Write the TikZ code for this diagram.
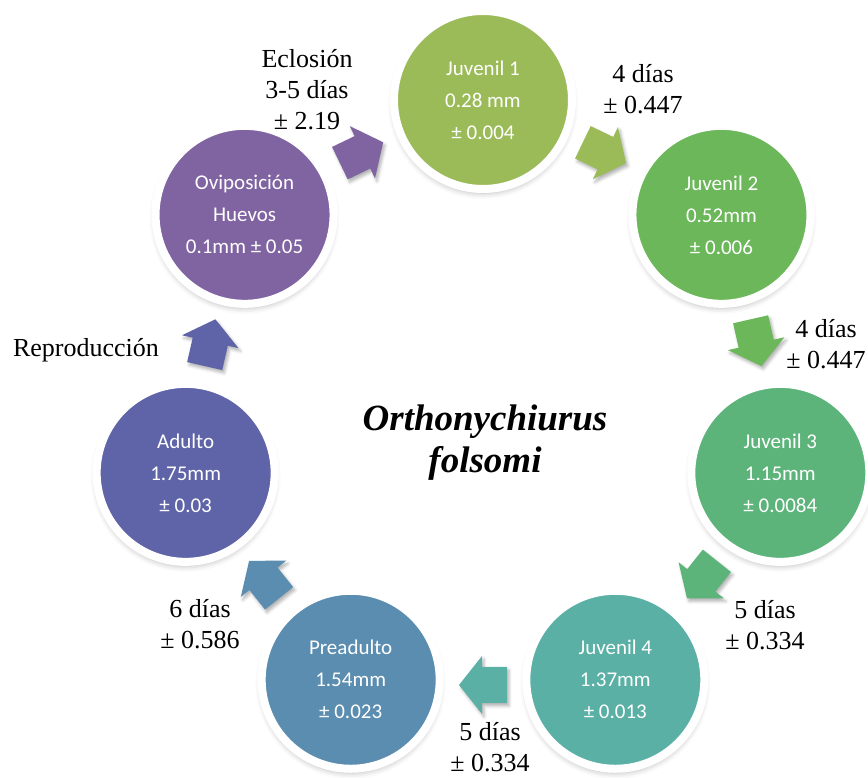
\documentclass[tikz,border=0pt]{standalone}
\usepackage{fontspec}
\setmainfont{Liberation Serif}
\newfontfamily\calib{Carlito}
\usetikzlibrary{calc,shadows.blur}
\definecolor{cA}{HTML}{9BBB59}
\definecolor{cB}{HTML}{6BB75A}
\definecolor{cC}{HTML}{5DB47B}
\definecolor{cD}{HTML}{5BB0A5}
\definecolor{cE}{HTML}{5B8DB0}
\definecolor{cF}{HTML}{5F64A8}
\definecolor{cG}{HTML}{8064A2}
\tikzset{
  stage/.style={circle, fill=#1, draw=white, line width=8pt, minimum size=178pt,
    inner sep=0pt, text=white, align=center,
    font=\calib\fontsize{21}{32}\selectfont,
    blur shadow={shadow xshift=0pt, shadow yshift=-4pt, shadow blur radius=6pt, shadow opacity=30}},
  flowarrow/.pic={
    \path[fill=#1, blur shadow={shadow xshift=2pt, shadow yshift=-3pt, shadow blur radius=3pt, shadow opacity=30}]
      (-24,-18) -- (1,-18) -- (1,-29) -- (24,0) -- (1,29) -- (1,18) -- (-24,18) -- cycle;
  },
  lbl/.style={align=center, font=\fontsize{26}{31}\selectfont, inner sep=0pt}
}
\begin{document}
\begin{tikzpicture}[x=1pt,y=1pt]
\useasboundingbox (0,0) rectangle (868,778);
\coordinate (C) at (483,373);
\def\st{51.4286}
% arrows
\pic[rotate={-0.5*\st}] at ($(C)+({90-0.5*\st}:280)$) {flowarrow=cA};
\pic[rotate={-1.5*\st}] at ($(C)+({90-1.5*\st}:280)$) {flowarrow=cB};
\pic[rotate={-2.5*\st}] at ($(C)+({90-2.5*\st}:280)$) {flowarrow=cC};
\pic[rotate={-3.5*\st}] at ($(C)+({90-3.5*\st}:280)$) {flowarrow=cD};
\pic[rotate={-4.5*\st}] at ($(C)+({90-4.5*\st}:280)$) {flowarrow=cE};
\pic[rotate={-5.5*\st}] at ($(C)+({90-5.5*\st}:280)$) {flowarrow=cF};
\pic[rotate={-6.5*\st}] at ($(C)+({90-6.5*\st}:280)$) {flowarrow=cG};
% circles
\node[stage=cA] (j1) at ($(C)+({90-0*\st}:305)$) {Juvenil 1\\0.28 mm\\± 0.004};
\node[stage=cB] (j2) at ($(C)+({90-1*\st}:305)$) {Juvenil 2\\0.52mm\\± 0.006};
\node[stage=cC] (j3) at ($(C)+({90-2*\st}:305)$) {Juvenil 3\\1.15mm\\± 0.0084};
\node[stage=cD] (j4) at ($(C)+({90-3*\st}:305)$) {Juvenil 4\\1.37mm\\± 0.013};
\node[stage=cE] (pre) at ($(C)+({90-4*\st}:305)$) {Preadulto\\1.54mm\\± 0.023};
\node[stage=cF] (ad) at ($(C)+({90-5*\st}:305)$) {Adulto\\1.75mm\\± 0.03};
\node[stage=cG] (ov) at ($(C)+({90-6*\st}:305)$) {Oviposición\\Huevos\\0.1mm ± 0.05};
% labels
\node[lbl] (l7) at (307,688) {Eclosión\\3-5 días\\± 2.19};
\node[lbl] (l1) at (643,689) {4 días\\± 0.447};
\node[lbl] (l2) at (826,434) {4 días\\± 0.447};
\node[lbl] (l3) at (765,153) {5 días\\± 0.334};
\node[lbl] (l4) at (490,31) {5 días\\± 0.334};
\node[lbl] (l5) at (200,154) {6 días\\± 0.586};
\node[lbl] (l6) at (86,428) {Reproducción};
\node[align=center, font=\bfseries\itshape\fontsize{37}{42}\selectfont, inner sep=0pt] (title) at (485,335) {Orthonychiurus\\folsomi};
\end{tikzpicture}
\end{document}
